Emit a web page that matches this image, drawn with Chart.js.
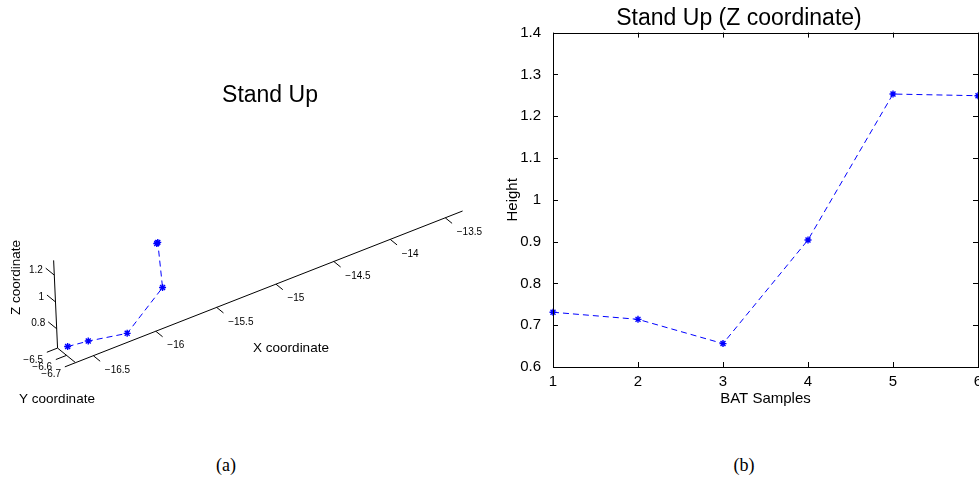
<!DOCTYPE html>
<html lang="en">
<head>
<meta charset="UTF-8">
<title>Stand Up</title>
<script src="https://cdn.jsdelivr.net/npm/chart.js"></script>
<style>
    html, body { margin: 0; padding: 0; background: #fff; overflow: hidden; }
    body { width: 979px; height: 481px; position: relative; }
    #standUp3d { position: absolute; left: 0; top: 0; }
    #standUpZ { position: absolute; left: 500px; top: 0; }
    .caption {
        position: absolute;
        top: 455px;
        line-height: 20px;
        font-family: "Liberation Serif", "Times New Roman", serif;
        font-size: 18px;
        transform: translateX(-50%);
    }
</style>
</head>
<body>
<canvas id="standUp3d" width="500" height="420"></canvas>
<canvas id="standUpZ" width="490" height="420"></canvas>
<div class="caption" style="left:226px">(a)</div>
<div class="caption" style="left:744px">(b)</div>
<script>
// BAT samples of the stand-up movement
const samples = [1, 2, 3, 4, 5, 6];
const posX = [-16.64, -16.48, -16.17, -15.88, -15.90, -15.91];
const posY = [-6.617, -6.619, -6.615, -6.626, -6.623, -6.625];
const heights = [0.731, 0.714, 0.656, 0.904, 1.253, 1.249];

// tick values
const xTicks3d = [-16.5, -16, -15.5, -15, -14.5, -14, -13.5];
const yTicks3d = [-6.5, -6.6, -6.7];
const zTicks3d = [0.8, 1, 1.2];
const sampleTicks = [1, 2, 3, 4, 5, 6];
const heightTicks = [0.6, 0.7, 0.8, 0.9, 1, 1.1, 1.2, 1.3, 1.4];

const FONT = '"Liberation Sans", Arial, Helvetica, sans-serif';
Chart.defaults.font.family = FONT;
Chart.defaults.color = '#000';

const BLUE = '#0000ff';

// axis limits of the 3d box
const lim3d = { x: [-16.64, -13.34], y: [-6.7, -6.5], z: [0.656, 1.31] };

// camera: corner of the box, box edge vectors and a bit of perspective along x
const view = { ox: 71.7, oy: 366.7, ex: [430.0, -169.2], ey: [-18.4, -15], ez: [-4, -90], persp: 0.087 };

function project(x, y, z) {
    const u = (x - lim3d.x[0]) / (lim3d.x[1] - lim3d.x[0]);
    const v = (y - lim3d.y[0]) / (lim3d.y[1] - lim3d.y[0]);
    const w = (z - lim3d.z[0]) / (lim3d.z[1] - lim3d.z[0]);
    const f = 1 + view.persp * u;
    return {
        x: view.ox + (u * view.ex[0] + v * view.ey[0] + w * view.ez[0]) / f,
        y: view.oy + (u * view.ex[1] + v * view.ey[1] + w * view.ez[1]) / f
    };
}

function fmt(v) {
    const s = String(+v.toFixed(2));
    return v < 0 ? '\u2212' + s.slice(1) : s;
}

function unit(a, b) {
    const dx = b.x - a.x, dy = b.y - a.y, l = Math.hypot(dx, dy);
    return { x: dx / l, y: dy / l };
}

// draws the 3d axes, ticks and labels
const box3d = {
    id: 'box3d',
    beforeDatasetsDraw(chart) {
        const ctx = chart.ctx;
        const sx = chart.scales.x, sy = chart.scales.y;
        const px = (x, y, z) => {
            const p = project(x, y, z);
            return { x: sx.getPixelForValue(p.x), y: sy.getPixelForValue(p.y) };
        };
        const [x0, x1] = lim3d.x, [y0, y1] = lim3d.y, [z0, z1] = lim3d.z;
        const corner = px(x0, y0, z0);
        const xEnd = px(x1, y0, z0);
        const yEnd = px(x0, y1, z0);
        const zEnd = px(x0, y1, z1);
        const dirX = unit(corner, xEnd);
        const dirY = unit(corner, yEnd);

        ctx.save();
        ctx.strokeStyle = '#000';
        ctx.lineWidth = 1;
        ctx.beginPath();
        ctx.moveTo(xEnd.x, xEnd.y); ctx.lineTo(corner.x, corner.y);
        ctx.lineTo(yEnd.x, yEnd.y); ctx.lineTo(zEnd.x, zEnd.y);
        ctx.stroke();

        ctx.fillStyle = '#000';
        ctx.font = '10px ' + FONT;
        ctx.textBaseline = 'middle';

        // x ticks point away from the y axis
        ctx.textAlign = 'left';
        xTicks3d.forEach(t => {
            const p = px(t, y0, z0);
            ctx.beginPath();
            ctx.moveTo(p.x, p.y);
            ctx.lineTo(p.x - dirY.x * 8.8, p.y - dirY.y * 8.8);
            ctx.stroke();
            ctx.fillText(fmt(t), p.x + 11.5, p.y + 14.5);
        });

        // y ticks
        ctx.textAlign = 'right';
        yTicks3d.forEach(t => {
            const p = px(x0, t, z0);
            ctx.beginPath();
            ctx.moveTo(p.x, p.y);
            ctx.lineTo(p.x - dirX.x * 11.5, p.y - dirX.y * 11.5);
            ctx.stroke();
            ctx.fillText(fmt(t), p.x - 14.5, p.y + 12);
        });

        // z ticks
        zTicks3d.forEach(t => {
            const p = px(x0, y1, t);
            ctx.beginPath();
            ctx.moveTo(p.x, p.y);
            ctx.lineTo(p.x + dirY.x * 11, p.y + dirY.y * 11);
            ctx.stroke();
            ctx.fillText(fmt(t), p.x - 11.5, p.y - 5);
        });

        // axis labels and title
        ctx.font = '13.5px ' + FONT;
        ctx.textAlign = 'center';
        ctx.fillText('X coordinate', 291, 348.5);
        ctx.fillText('Y coordinate', 57, 399);
        ctx.save();
        ctx.translate(16, 277.5);
        ctx.rotate(-Math.PI / 2);
        ctx.fillText('Z coordinate', 0, 0);
        ctx.restore();

        ctx.font = '23px ' + FONT;
        ctx.textBaseline = 'alphabetic';
        ctx.fillText('Stand Up', 270, 101.7);
        ctx.restore();
    }
};

new Chart(document.getElementById('standUp3d'), {
    type: 'scatter',
    data: {
        datasets: [{
            data: samples.map((s, i) => project(posX[i], posY[i], heights[i])),
            showLine: true,
            borderColor: BLUE,
            backgroundColor: BLUE,
            borderWidth: 1,
            borderDash: [6, 4],
            pointStyle: 'star',
            pointRadius: 3.5,
            pointBorderWidth: 1.4,
            clip: false
        }]
    },
    options: {
        responsive: false,
        animation: false,
        layout: { padding: 0 },
        plugins: { legend: { display: false }, tooltip: { enabled: false } },
        scales: {
            x: { type: 'linear', display: false, min: 0, max: 500 },
            y: { type: 'linear', display: false, min: 0, max: 420, reverse: true }
        }
    },
    plugins: [box3d]
});

// box around the plot with inward tick marks on all four sides
const frameTicks = {
    id: 'frameTicks',
    afterDatasetsDraw(chart) {
        const { ctx, chartArea: a, scales } = chart;
        const len = 5;
        ctx.save();
        ctx.strokeStyle = '#000';
        ctx.lineWidth = 1;
        ctx.strokeRect(Math.round(a.left) + 0.5, Math.round(a.top) + 0.5,
            Math.round(a.right - a.left), Math.round(a.bottom - a.top));
        ctx.beginPath();
        sampleTicks.forEach(v => {
            const x = Math.round(scales.x.getPixelForValue(v)) + 0.5;
            ctx.moveTo(x, a.bottom); ctx.lineTo(x, a.bottom - len);
            ctx.moveTo(x, a.top); ctx.lineTo(x, a.top + len);
        });
        heightTicks.forEach(v => {
            const y = Math.round(scales.y.getPixelForValue(v)) + 0.5;
            ctx.moveTo(a.left, y); ctx.lineTo(a.left + len, y);
            ctx.moveTo(a.right, y); ctx.lineTo(a.right - len, y);
        });
        ctx.stroke();
        ctx.restore();
    }
};

new Chart(document.getElementById('standUpZ'), {
    type: 'scatter',
    data: {
        datasets: [{
            data: samples.map((s, i) => ({ x: s, y: heights[i] })),
            showLine: true,
            borderColor: BLUE,
            backgroundColor: BLUE,
            borderWidth: 1,
            borderDash: [6, 4],
            pointStyle: 'star',
            pointRadius: 3.5,
            pointBorderWidth: 1.4,
            clip: false
        }]
    },
    options: {
        responsive: false,
        animation: false,
        layout: { padding: { left: 0, right: 12, top: 0, bottom: 0 } },
        plugins: {
            legend: { display: false },
            tooltip: { enabled: false },
            title: {
                display: true,
                text: 'Stand Up (Z coordinate)',
                color: '#000',
                font: { size: 23, weight: 'normal' },
                padding: { top: 5, bottom: 0 }
            }
        },
        scales: {
            x: {
                type: 'linear', min: 1, max: 6,
                grid: { display: false }, border: { display: false },
                afterBuildTicks: axis => { axis.ticks = sampleTicks.map(v => ({ value: v })); },
                afterFit: axis => { axis.height = 53; },
                ticks: { color: '#000', font: { size: 15 }, padding: -2, maxRotation: 0 },
                title: { display: true, text: 'BAT Samples', color: '#000', font: { size: 15 }, padding: { top: 0, bottom: 12 } }
            },
            y: {
                type: 'linear', min: 0.6, max: 1.4,
                grid: { display: false }, border: { display: false },
                afterBuildTicks: axis => { axis.ticks = heightTicks.map(v => ({ value: v })); },
                afterFit: axis => { axis.width = 53; },
                ticks: { color: '#000', font: { size: 15 }, padding: 4, callback: v => String(+v.toFixed(1)) },
                title: { display: true, text: 'Height', color: '#000', font: { size: 15 }, padding: { top: 4, bottom: 0 } }
            }
        }
    },
    plugins: [frameTicks]
});
</script>
</body>
</html>
